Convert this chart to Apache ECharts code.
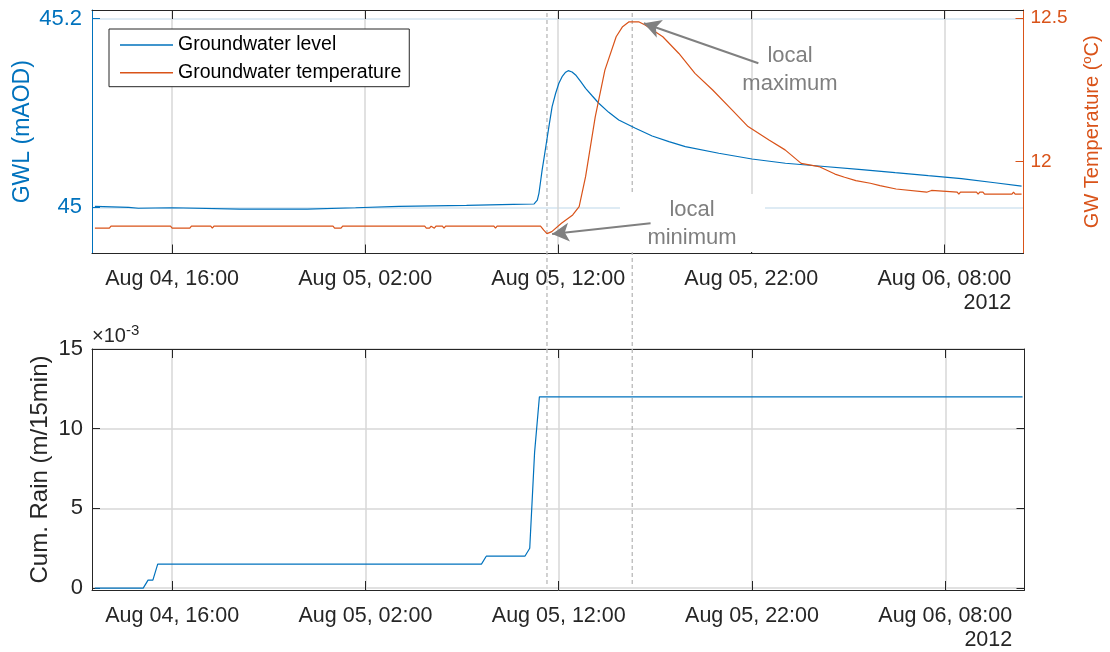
<!DOCTYPE html>
<html>
<head>
<meta charset="utf-8">
<title>Groundwater response to rainfall, August 2012</title>
<script src="https://cdn.jsdelivr.net/npm/echarts@6/dist/echarts.min.js"></script>
<style>
  html, body { margin: 0; padding: 0; background: #ffffff; }
  #chart { width: 1110px; height: 652px; }
</style>
</head>
<body>
<div id="chart"></div>
<script>
// ---- Groundwater level (mAOD) ----
const gwlTimes = [
  '2012-08-04 12:00', '2012-08-04 13:45', '2012-08-04 14:15', '2012-08-04 16:00',
  '2012-08-04 19:30', '2012-08-04 23:00', '2012-08-05 01:30', '2012-08-05 03:45',
  '2012-08-05 07:15', '2012-08-05 09:40', '2012-08-05 10:45', '2012-08-05 10:55',
  '2012-08-05 11:00', '2012-08-05 11:05', '2012-08-05 11:10', '2012-08-05 11:15',
  '2012-08-05 11:23', '2012-08-05 11:31', '2012-08-05 11:41', '2012-08-05 11:52',
  '2012-08-05 12:02', '2012-08-05 12:12', '2012-08-05 12:23', '2012-08-05 12:31',
  '2012-08-05 12:43', '2012-08-05 12:54', '2012-08-05 13:10', '2012-08-05 13:25',
  '2012-08-05 13:46', '2012-08-05 14:06', '2012-08-05 14:37', '2012-08-05 15:08',
  '2012-08-05 16:00', '2012-08-05 16:52', '2012-08-05 17:44', '2012-08-05 18:35',
  '2012-08-05 20:19', '2012-08-05 22:02', '2012-08-05 23:46', '2012-08-06 01:29',
  '2012-08-06 03:43', '2012-08-06 05:27', '2012-08-06 07:10', '2012-08-06 08:53',
  '2012-08-06 10:37', '2012-08-06 12:00'
];
const gwlValues = [
  45.001, 45.000, 44.999, 44.9995,
  44.998, 44.998, 44.9995, 45.001,
  45.002, 45.003, 45.0035, 45.0077,
  45.0148, 45.0271, 45.0396, 45.0502,
  45.0679, 45.0855, 45.1067, 45.1209,
  45.1315, 45.1385, 45.1432, 45.1449,
  45.1435, 45.1403, 45.1332, 45.1262,
  45.118, 45.1103, 45.1007, 45.0926,
  45.0838, 45.0756, 45.0696, 45.0643,
  45.0573, 45.0512, 45.0467, 45.0438,
  45.040, 45.0367, 45.0335, 45.0304,
  45.026, 45.0225
];

// ---- Groundwater temperature (degC) ----
const tempTimes = [
  '2012-08-04 12:00', '2012-08-04 12:45', '2012-08-04 12:50', '2012-08-04 15:55',
  '2012-08-04 16:00', '2012-08-04 16:55', '2012-08-04 17:00', '2012-08-04 18:00',
  '2012-08-04 18:05', '2012-08-04 18:10', '2012-08-05 00:20', '2012-08-05 00:25',
  '2012-08-05 00:45', '2012-08-05 00:50', '2012-08-05 05:05', '2012-08-05 05:10',
  '2012-08-05 05:20', '2012-08-05 05:25', '2012-08-05 05:30', '2012-08-05 05:35',
  '2012-08-05 05:40', '2012-08-05 06:00', '2012-08-05 06:05', '2012-08-05 06:10',
  '2012-08-05 08:40', '2012-08-05 08:45', '2012-08-05 08:50', '2012-08-05 11:05',
  '2012-08-05 11:15', '2012-08-05 11:25', '2012-08-05 11:40', '2012-08-05 12:10',
  '2012-08-05 12:45', '2012-08-05 13:05', '2012-08-05 13:25', '2012-08-05 13:55',
  '2012-08-05 14:25', '2012-08-05 15:00', '2012-08-05 15:20', '2012-08-05 15:40',
  '2012-08-05 16:10', '2012-08-05 16:30', '2012-08-05 17:25', '2012-08-05 18:15',
  '2012-08-05 19:05', '2012-08-05 20:00', '2012-08-05 21:00', '2012-08-05 21:50',
  '2012-08-05 22:55', '2012-08-05 23:45', '2012-08-06 00:35', '2012-08-06 01:30',
  '2012-08-06 02:20', '2012-08-06 02:50', '2012-08-06 03:25', '2012-08-06 04:10',
  '2012-08-06 04:40', '2012-08-06 05:30', '2012-08-06 07:05', '2012-08-06 07:20',
  '2012-08-06 07:25', '2012-08-06 08:40', '2012-08-06 08:45', '2012-08-06 08:50',
  '2012-08-06 09:40', '2012-08-06 09:45', '2012-08-06 09:50', '2012-08-06 10:00',
  '2012-08-06 10:05', '2012-08-06 11:30', '2012-08-06 11:35', '2012-08-06 11:40',
  '2012-08-06 12:00'
];
const tempValues = [
  11.769, 11.769, 11.776, 11.776,
  11.769, 11.769, 11.776, 11.776,
  11.769, 11.776, 11.776, 11.769,
  11.769, 11.776, 11.776, 11.769,
  11.769, 11.776, 11.776, 11.769,
  11.776, 11.776, 11.769, 11.776,
  11.776, 11.769, 11.776, 11.776,
  11.762, 11.750, 11.757, 11.786,
  11.815, 11.844, 11.948, 12.156,
  12.318, 12.434, 12.469, 12.486,
  12.486, 12.475, 12.434, 12.376,
  12.307, 12.249, 12.180, 12.122,
  12.075, 12.041, 11.994, 11.983,
  11.957, 11.946, 11.934, 11.925,
  11.917, 11.905, 11.894, 11.900,
  11.894, 11.894, 11.887, 11.894,
  11.894, 11.887, 11.894, 11.894,
  11.887, 11.887, 11.894, 11.887,
  11.887
];

// ---- Cumulative rainfall (m per 15 min) ----
const rainTimes = [
  '2012-08-04 12:00', '2012-08-04 14:30', '2012-08-04 14:45', '2012-08-04 15:00',
  '2012-08-04 15:15', '2012-08-05 08:00', '2012-08-05 08:15', '2012-08-05 10:15',
  '2012-08-05 10:30', '2012-08-05 10:45', '2012-08-05 11:00', '2012-08-06 12:00'
];
const rainValues = [
  0, 0, 0.0005, 0.0005,
  0.0015, 0.0015, 0.0020, 0.0020,
  0.0025, 0.0085, 0.0120, 0.0120
];

// ---- Axes ----
const tickTimes = ['2012-08-04 16:00', '2012-08-05 02:00', '2012-08-05 12:00', '2012-08-05 22:00', '2012-08-06 08:00'];
const timeRange = ['2012-08-04 11:51', '2012-08-06 12:06'];
const gwlTicks = [45, 45.2];
const gwlRange = [44.951, 45.2092];
const tempTicks = [12, 12.5];
const tempRange = [11.681, 12.527];
const rainTicks = [0, 0.005, 0.010, 0.015];
const rainRange = [-0.00012, 0.015];

// Event markers (dashed verticals) and annotation arrows (tail, tip)
const eventTimes = ['2012-08-05 11:25', '2012-08-05 15:50'];
const maxArrow = [['2012-08-05 22:22', 12.342], ['2012-08-05 16:26', 12.481]];
const minArrow = [['2012-08-05 16:47', 11.786], ['2012-08-05 11:41', 11.749]];

const FONT = "'Liberation Sans', Arial, Helvetica, sans-serif";
const BLUE = '#0072BD';
const ORANGE = '#D95319';
const INK = '#262626';
const MONTHS = ['Jan','Feb','Mar','Apr','May','Jun','Jul','Aug','Sep','Oct','Nov','Dec'];

// time axis is numeric: hours since 2012-08-04 06:00 UTC
const BASE = Date.UTC(2012, 7, 4, 6, 0);
function toHours(s) {
  const [d, t] = s.split(' ');
  const [Y, M, D] = d.split('-').map(Number);
  const [h, m] = t.split(':').map(Number);
  return (Date.UTC(Y, M - 1, D, h, m) - BASE) / 3600000;
}
const pad = n => String(n).padStart(2, '0');
function dateOf(v) { return new Date(BASE + Math.round(v * 3600000)); }
function fmtTime(v) {
  const d = dateOf(v);
  return MONTHS[d.getUTCMonth()] + ' ' + pad(d.getUTCDate()) + ', ' + pad(d.getUTCHours()) + ':' + pad(d.getUTCMinutes());
}
const pairs = (ts, vs) => ts.map((t, i) => [toHours(t), vs[i]]);

const tickHours = tickTimes.map(toHours);
const xMin = toHours(timeRange[0]);
const xMax = toHours(timeRange[1]);

function xLabel(v) {
  const i = tickHours.findIndex(h => Math.abs(h - v) < 1e-6);
  if (i < 0) return '';
  if (i === tickHours.length - 1) return '{d|' + fmtTime(v) + '}\n{y|' + dateOf(v).getUTCFullYear() + '}';
  return fmtTime(v);
}
function listLabel(list, text) {
  return v => {
    const i = list.findIndex(t => Math.abs(t - v) < 1e-9);
    return i < 0 ? '' : text(list[i]);
  };
}

const greyGrid = { show: true, lineStyle: { color: '#d7d7d7', width: 1.5 } };

function xAxisPair(gridIndex) {
  const common = { type: 'value', gridIndex, min: xMin, max: xMax };
  const ticks = { inside: true, length: 9, customValues: tickHours, lineStyle: { color: INK, width: 1 } };
  return [
    Object.assign({}, common, {
      position: 'bottom',
      axisLine: { onZero: false, lineStyle: { color: INK, width: 1 } },
      axisTick: ticks,
      axisLabel: {
        customValues: tickHours, formatter: xLabel,
        color: INK, fontFamily: FONT, fontSize: 21.5, margin: 14, lineHeight: 24,
        rich: {
          d: { fontFamily: FONT, fontSize: 21.5, color: INK, lineHeight: 24 },
          y: { fontFamily: FONT, fontSize: 21.5, color: INK, lineHeight: 24, align: 'right' }
        }
      },
      splitLine: greyGrid
    }),
    Object.assign({}, common, {
      position: 'top',
      axisLine: { onZero: false, lineStyle: { color: INK, width: 1 } },
      axisTick: ticks,
      axisLabel: { show: false },
      splitLine: { show: false }
    })
  ];
}

const chart = echarts.init(document.getElementById('chart'), null, { renderer: 'canvas', width: 1110, height: 652 });

const option = {
  animation: false,
  backgroundColor: '#ffffff',
  grid: [
    { left: 92, right: 85.5, top: 10, height: 243.5 },
    { left: 92, right: 85.5, top: 349, height: 244 }
  ],
  legend: {
    data: [
      { name: 'Groundwater level', icon: 'rect' },
      { name: 'Groundwater temperature', icon: 'rect' }
    ],
    orient: 'vertical', left: 109, top: 29,
    padding: [6, 8, 4, 11],
    itemWidth: 53, itemHeight: 1.4, itemGap: 7.7,
    backgroundColor: '#ffffff', borderColor: INK, borderWidth: 1, borderRadius: 0,
    selectedMode: false,
    textStyle: { fontFamily: FONT, fontSize: 19.5, color: '#000000', lineHeight: 20 }
  },
  xAxis: [...xAxisPair(0), ...xAxisPair(1)],
  yAxis: [
    {
      type: 'value', gridIndex: 0, position: 'left',
      min: gwlRange[0], max: gwlRange[1],
      name: 'GWL (mAOD)', nameLocation: 'middle', nameRotate: 90, nameGap: 58, nameMoveOverlap: false,
      nameTextStyle: { color: BLUE, fontFamily: FONT, fontSize: 23 },
      axisLine: { onZero: false, lineStyle: { color: BLUE, width: 1 } },
      axisTick: { inside: true, length: 8, customValues: gwlTicks, lineStyle: { color: BLUE } },
      axisLabel: { customValues: gwlTicks, formatter: listLabel(gwlTicks, t => String(t)), color: BLUE, fontFamily: FONT, fontSize: 22, margin: 10 },
      splitLine: { show: true, lineStyle: { color: '#d3e4f1', width: 1.5 } }
    },
    {
      type: 'value', gridIndex: 0, position: 'right',
      min: tempRange[0], max: tempRange[1],
      name: '{t|GW Temperature (}{s|o}{t|C)}', nameLocation: 'middle', nameRotate: 90, nameGap: 57, nameMoveOverlap: false,
      nameTextStyle: {
        color: ORANGE, fontFamily: FONT, fontSize: 20,
        rich: {
          t: { color: ORANGE, fontFamily: FONT, fontSize: 20 },
          s: { color: ORANGE, fontFamily: FONT, fontSize: 13, padding: [0, 0, 10, 0] }
        }
      },
      axisLine: { onZero: false, lineStyle: { color: ORANGE, width: 1 } },
      axisTick: { inside: true, length: 8, customValues: tempTicks, lineStyle: { color: ORANGE } },
      axisLabel: { customValues: tempTicks, formatter: listLabel(tempTicks, t => String(t)), color: ORANGE, fontFamily: FONT, fontSize: 19, margin: 7 },
      splitLine: { show: false }
    },
    {
      type: 'value', gridIndex: 1, position: 'left',
      min: rainRange[0], max: rainRange[1],
      name: 'Cum. Rain (m/15min)', nameLocation: 'middle', nameRotate: 90, nameGap: 40, nameMoveOverlap: false,
      nameTextStyle: { color: INK, fontFamily: FONT, fontSize: 24 },
      axisLine: { onZero: false, lineStyle: { color: INK, width: 1 } },
      axisTick: { inside: true, length: 8, customValues: rainTicks, lineStyle: { color: INK } },
      axisLabel: { customValues: rainTicks, formatter: listLabel(rainTicks, t => String(Math.round(t * 1000))), color: INK, fontFamily: FONT, fontSize: 22, margin: 9 },
      splitLine: greyGrid
    },
    {
      type: 'value', gridIndex: 1, position: 'right',
      min: rainRange[0], max: rainRange[1],
      axisLine: { onZero: false, lineStyle: { color: INK, width: 1 } },
      axisTick: { inside: true, length: 8, customValues: rainTicks, lineStyle: { color: INK } },
      axisLabel: { show: false },
      splitLine: { show: false }
    }
  ],
  series: [
    {
      name: 'Groundwater level', type: 'line', xAxisIndex: 0, yAxisIndex: 0,
      data: pairs(gwlTimes, gwlValues),
      showSymbol: false, symbol: 'none',
      color: BLUE, lineStyle: { color: BLUE, width: 1.2 }, z: 3, silent: true
    },
    {
      name: 'Groundwater temperature', type: 'line', xAxisIndex: 0, yAxisIndex: 1,
      data: pairs(tempTimes, tempValues),
      showSymbol: false, symbol: 'none',
      color: ORANGE, lineStyle: { color: ORANGE, width: 1.2 }, z: 3, silent: true,
      markLine: {
        silent: true, animation: false,
        symbol: ['none', 'arrow'], symbolSize: [14, 17],
        label: { show: false }, emphasis: { disabled: true },
        lineStyle: { color: '#808080', width: 2, type: 'solid' },
        itemStyle: { color: '#808080' },
        data: [maxArrow, minArrow].map(a => [
          { coord: [toHours(a[0][0]), a[0][1]] },
          { coord: [toHours(a[1][0]), a[1][1]] }
        ])
      }
    },
    {
      name: 'Cumulative rain', type: 'line', xAxisIndex: 2, yAxisIndex: 2,
      data: pairs(rainTimes, rainValues),
      showSymbol: false, symbol: 'none',
      color: BLUE, lineStyle: { color: BLUE, width: 1.2 }, z: 3, silent: true
    }
  ]
};
chart.setOption(option);

// dashed event lines through both panels, annotation text and the axis exponent
const topY = chart.convertToPixel({ yAxisIndex: 0 }, gwlRange[1]);
const bottomY = chart.convertToPixel({ yAxisIndex: 2 }, rainRange[0]);
const eventLines = eventTimes.map(t => {
  const x = chart.convertToPixel({ xAxisIndex: 0 }, toHours(t));
  return {
    type: 'line', z: 2, silent: true,
    shape: { x1: x, y1: topY + 3, x2: x, y2: bottomY - 3 },
    style: { stroke: '#b9b9b9', lineWidth: 1.3, lineDash: [4, 3] }
  };
});
const annoStyle = { fontFamily: FONT, fontSize: 22, fill: '#7f7f7f', lineHeight: 28.4, align: 'center', verticalAlign: 'middle' };
chart.setOption({
  graphic: [
    ...eventLines,
    { type: 'rect', z: 2, silent: true, shape: { x: 620, y: 194, width: 145, height: 58 }, style: { fill: '#ffffff' } },
    { type: 'text', z: 6, silent: true, x: 692, y: 224, style: Object.assign({ text: 'local\nminimum' }, annoStyle) },
    { type: 'text', z: 6, silent: true, x: 790, y: 70, style: Object.assign({ text: 'local\nmaximum' }, annoStyle) },
    {
      type: 'text', z: 6, silent: true, x: 92, y: 349,
      style: {
        text: '{a|\u00d710}{b|-3}', verticalAlign: 'bottom', align: 'left',
        rich: {
          a: { fontFamily: FONT, fontSize: 20, fill: INK },
          b: { fontFamily: FONT, fontSize: 15, fill: INK, padding: [0, 0, 11, 0] }
        }
      }
    }
  ]
});
</script>
</body>
</html>
